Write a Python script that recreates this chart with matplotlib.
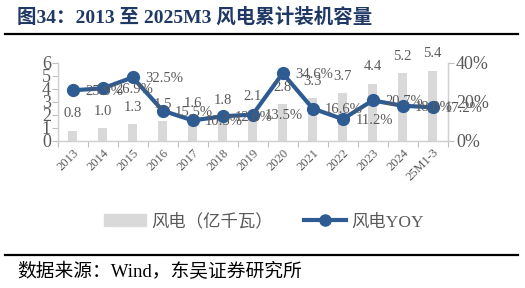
import matplotlib
matplotlib.use("Agg")
import matplotlib.pyplot as plt
from matplotlib.lines import Line2D
from matplotlib.patches import Patch
import numpy as np

# data
years = ["2013", "2014", "2015", "2016", "2017", "2018", "2019", "2020",
         "2021", "2022", "2023", "2024", "25M1-3"]
capacity = [0.8, 1.0, 1.3, 1.5, 1.6, 1.8, 2.1, 2.8, 3.3, 3.7, 4.4, 5.2, 5.4]  # 亿千瓦
yoy = [25.9, 26.9, 32.5, 15.5, 10.5, 12.6, 13.5, 34.6, 16.6, 11.2, 20.7, 18.0, 17.2]  # %

FONT = ["Liberation Serif", "Noto Sans CJK SC", "DejaVu Sans"]
plt.rcParams["font.family"] = FONT
GREY_TXT = "#595959"
BAR_C = "#D9D9D9"
LINE_C = "#2F5B93"
TITLE_C = "#1F3864"

fig = plt.figure(figsize=(5.25, 2.88), dpi=100)
W, H = 525, 288


def fx(px):
    return px / W


def fy(py):
    return 1 - py / H


ax = fig.add_axes([fx(57.7), fy(141), fx(390), 78.3 / H])
ax2 = ax.twinx()

x = np.arange(len(years))
ax.bar(x, capacity, width=0.3, color=BAR_C, zorder=1)
ax.set_xlim(-0.5, len(years) - 0.5)
ax.set_ylim(0, 6)
ax.set_yticks(range(0, 7))
ax.tick_params(axis="y", labelsize=13, colors=GREY_TXT, length=4, width=0.8,
               color="#BFBFBF", pad=1)
for lbl in ax.get_yticklabels():
    lbl.set_color(GREY_TXT)

ax.set_xticks(x)
ax.set_xticklabels(years, rotation=45, ha="right", rotation_mode="anchor",
                   fontsize=9, color=GREY_TXT)
ax.tick_params(axis="x", length=0, pad=4)
ax.set_xticks(np.arange(-0.5, len(years)), minor=True)
ax.tick_params(axis="x", which="minor", length=4, color="#BFBFBF", width=0.8)

ax2.plot(x, np.array(yoy) / 100, color=LINE_C, lw=3, marker="o", ms=8.5,
         zorder=3, solid_capstyle="round")
ax2.set_ylim(0, 0.4)
ax2.set_yticks([0, 0.2, 0.4])
ax2.set_yticklabels(["0%", "20%", "40%"])
ax2.tick_params(axis="y", labelsize=13, labelcolor=GREY_TXT, length=4,
                width=0.8, color="#BFBFBF", pad=2)

for a in (ax, ax2):
    a.spines["top"].set_visible(False)
    for s in ("left", "right", "bottom"):
        a.spines[s].set_color("#D0D0D0")
        a.spines[s].set_linewidth(0.9)

# data labels: bar values above bars, yoy labels shifted one slot right
for xi, v in zip(x, capacity):
    ax2.annotate(f"{v:.1f}", (xi, v), xycoords=ax.transData,
                 xytext=(0, 12), textcoords="offset points",
                 ha="center", va="center", fontsize=10.5, color=GREY_TXT,
                 zorder=5, annotation_clip=False)
for xi, v in zip(x, yoy):
    ax2.annotate(f"{v:.1f}%", (xi + 1, v / 100), xytext=(1, -1),
                 textcoords="offset points", ha="center", va="center",
                 fontsize=10.5, color=GREY_TXT, zorder=5,
                 annotation_clip=False)

# title and rules
fig.text(fx(17), fy(23), "图34：2013 至 2025M3 风电累计装机容量",
         fontsize=14, fontweight="bold", color=TITLE_C, va="baseline",
         family=FONT)
fig.add_artist(Line2D([fx(5), fx(518)], [fy(34), fy(34)], color="black", lw=1.6))
fig.add_artist(Line2D([fx(5), fx(518)], [fy(254.5), fy(254.5)], color="black", lw=1.6))
fig.text(fx(17), fy(272), "数据来源：Wind，东吴证券研究所", fontsize=13.5,
         color="black", va="center", family=FONT)

handles = [Patch(color=BAR_C, label="风电（亿千瓦）"),
           Line2D([], [], color=LINE_C, lw=3, marker="o", ms=8,
                  label="风电YOY")]
fig.legend(handles=handles, loc="center", bbox_to_anchor=(fx(264), fy(222)),
           ncol=2, frameon=False, fontsize=12.5, labelcolor=GREY_TXT,
           handlelength=2.4, handletextpad=0.3, columnspacing=1.8)

fig.savefig("out.png", dpi=100)
